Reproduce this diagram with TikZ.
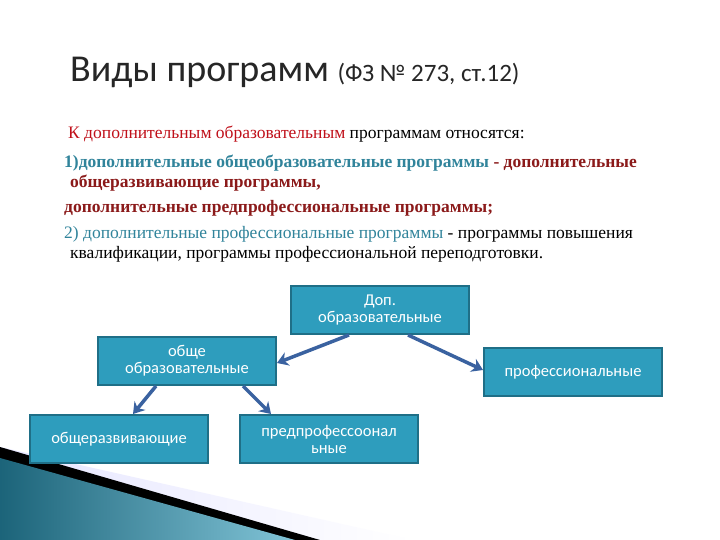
\documentclass[tikz,border=0pt]{standalone}
\usepackage{fontspec}
\setmainfont{Liberation Serif}
\newfontfamily\calfont{Carlito}
\usetikzlibrary{arrows.meta}
\definecolor{boxfill}{HTML}{2E9DBD}
\definecolor{boxedge}{HTML}{1F6F87}
\definecolor{arr}{HTML}{3A62A0}
\definecolor{tred}{HTML}{C0101A}
\definecolor{tteal}{HTML}{31849B}
\definecolor{tdred}{HTML}{8B1A1A}
\tikzset{
  box/.style={draw=boxedge,line width=2pt,fill=boxfill,text=white,font=\calfont\fontsize{16.5}{17}\selectfont,
    minimum width=178pt,minimum height=48pt,align=center,inner sep=2pt},
  conn/.style={draw=arr,line width=3.5pt,-{Stealth[length=11pt,width=14pt]}},
  txt/.style={anchor=west,inner sep=0pt,font=\fontsize{17.5}{19}\selectfont}
}
\begin{document}
\begin{tikzpicture}[x=1pt,y=-1pt]
\useasboundingbox (0,0) rectangle (720,540);
\fill[white] (0,0) rectangle (720,540);
% decoration
\shade[left color=blue!10,right color=white] (0,447)--(413,540)--(0,540)--cycle;
\fill[black] (0,447)--(320,540)--(0,540)--cycle;
\shade[left color=boxedge!90!black,right color=boxfill!60] (0,458)--(295,540)--(0,540)--cycle;
% title
\node[anchor=base west,inner sep=0pt,font=\calfont\fontsize{38}{40}\selectfont,text=black!85] (t) at (70,82) {Виды программ \fontsize{25}{26}\selectfont(ФЗ № 273, ст.12)};
\node[txt] (l1) at (68,134) {\textcolor{tred}{К дополнительным образовательным} программам относятся:};
\node[txt] (l2) at (64,163) {\textbf{\textcolor{tteal}{1)дополнительные общеобразовательные программы} \textcolor{tdred}{- дополнительные}}};
\node[txt] (l3) at (70,183) {\textbf{\textcolor{tdred}{общеразвивающие программы,}}};
\node[txt] (l4) at (64,208) {\textbf{\textcolor{tdred}{дополнительные предпрофессиональные программы;}}};
\node[txt] (l5) at (64,234) {\textcolor{tteal}{2) дополнительные профессиональные программы} - программы повышения};
\node[txt] (l6) at (70,254) {квалификации, программы профессиональной переподготовки.};
% boxes
\node[box] (dop) at (380,310) {Доп.\\образовательные};
\node[box] (obsh) at (187,361) {обще\\образовательные};
\node[box] (prof) at (573,372) {профессиональные};
\node[box] (razv) at (119,439) {общеразвивающие};
\node[box] (pred) at (329,439) {предпрофессоонал\\ьные};
% connectors
\draw[conn] ([xshift=-31pt]dop.south) -- ([yshift=-2pt]obsh.east);
\draw[conn] ([xshift=28pt]dop.south) -- ([yshift=2pt]prof.west);
\draw[conn] ([xshift=-31pt]obsh.south) -- ([xshift=14pt]razv.north);
\draw[conn] ([xshift=56pt]obsh.south) -- ([xshift=-58pt]pred.north);
\end{tikzpicture}
\end{document}
